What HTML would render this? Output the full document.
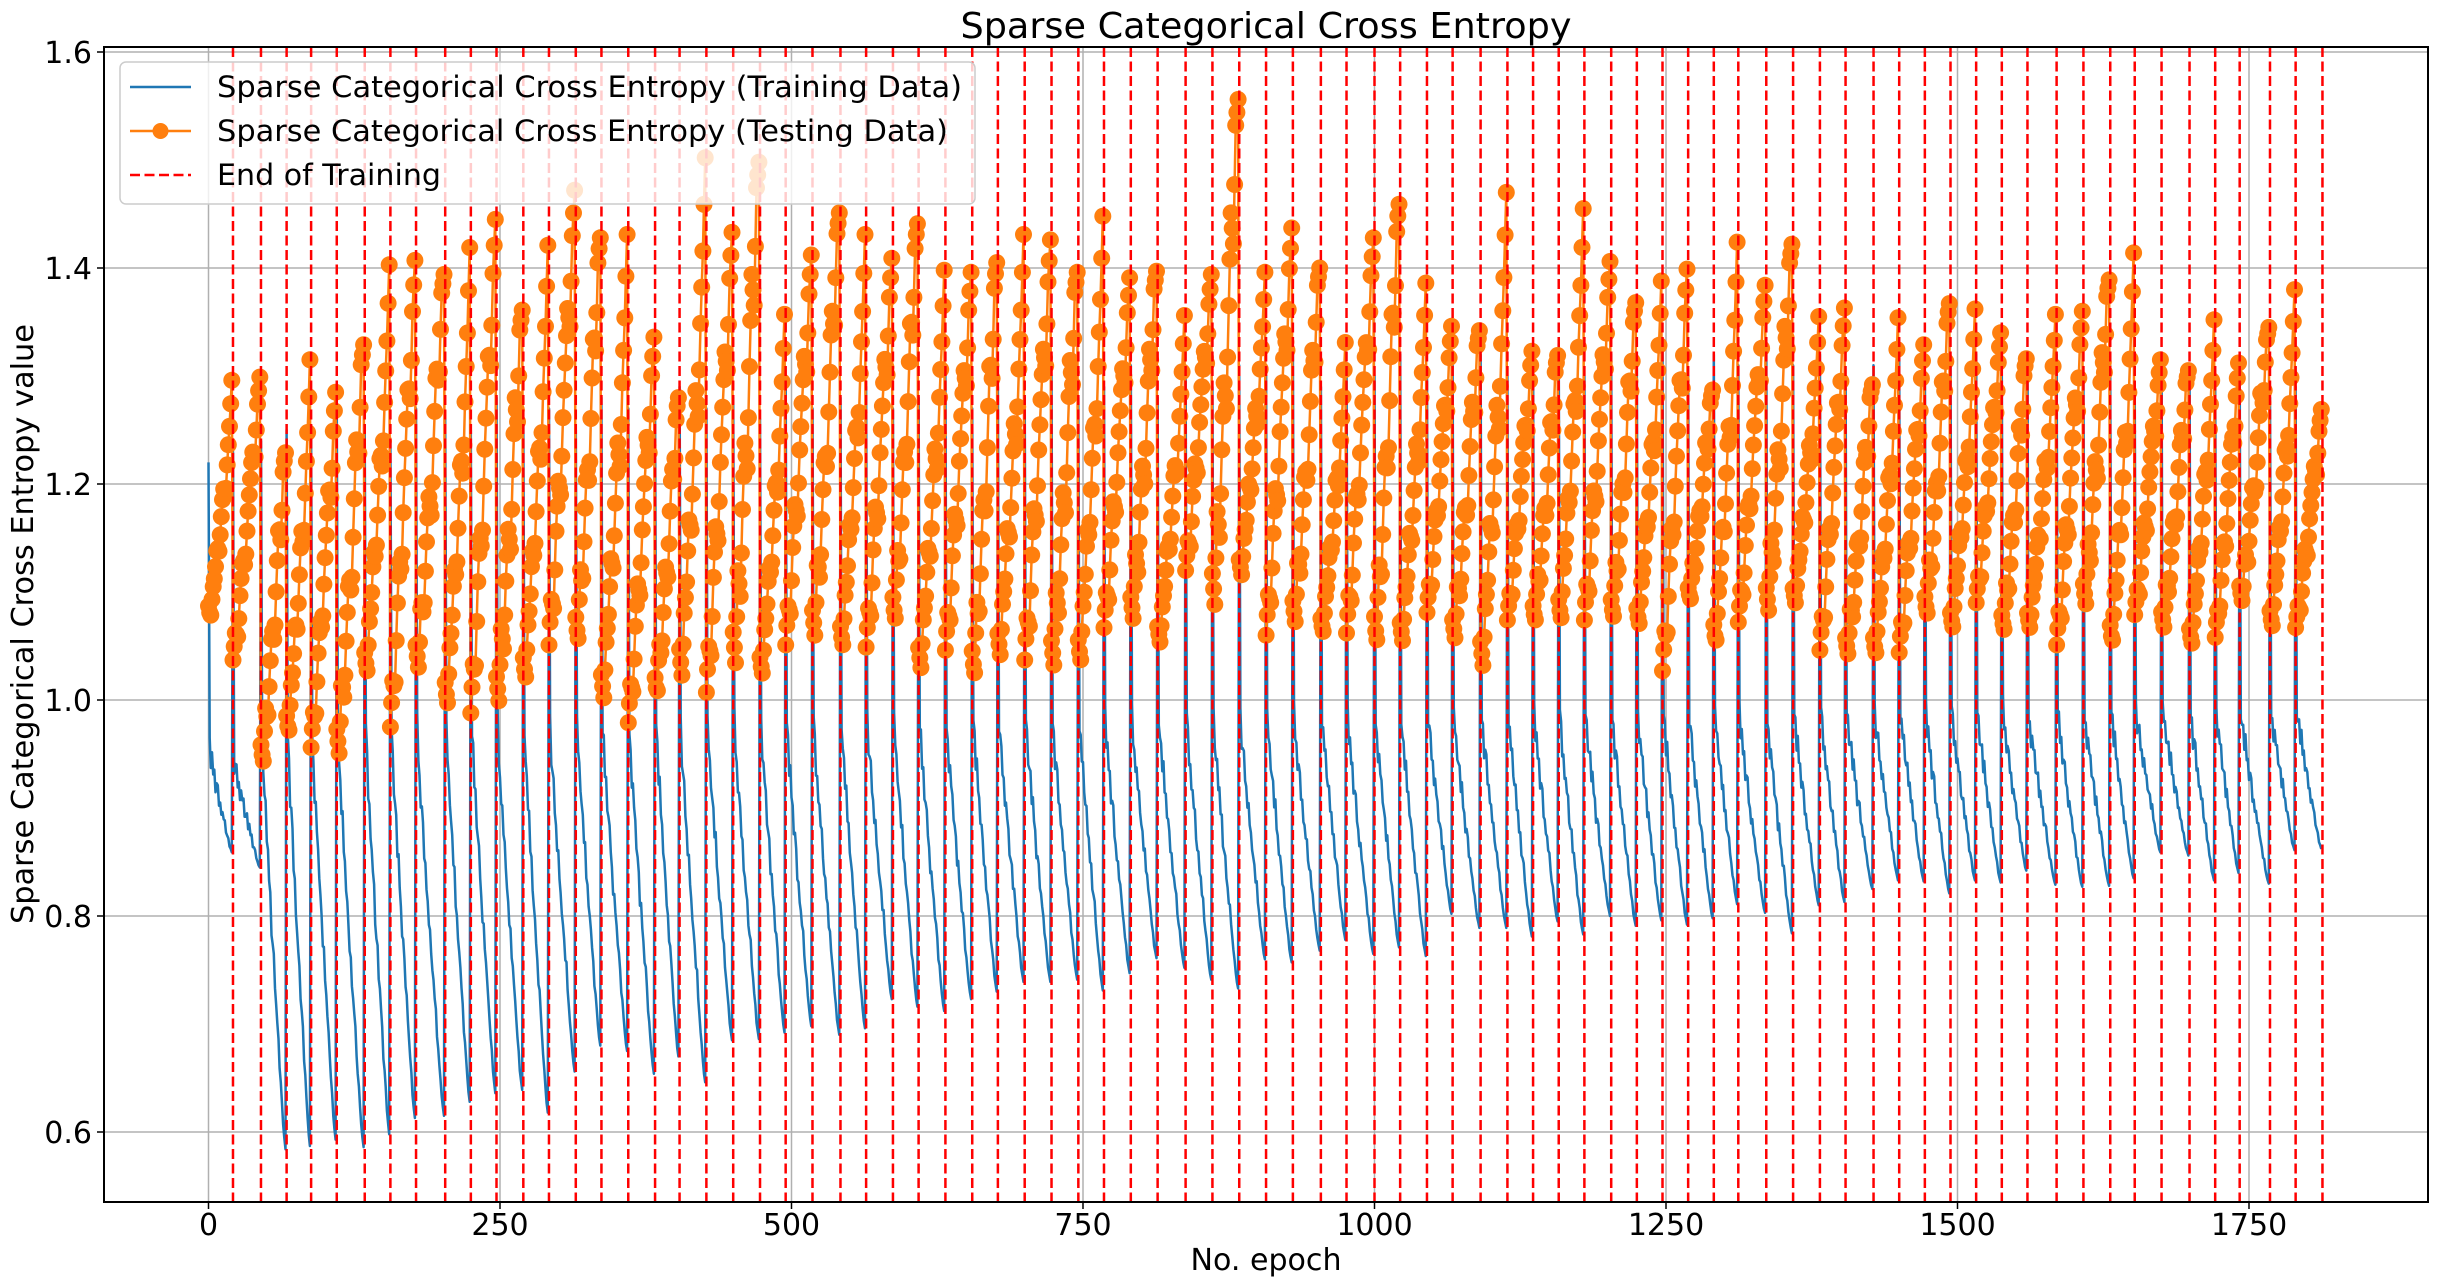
<!DOCTYPE html>
<html><head><meta charset="utf-8"><title>Sparse Categorical Cross Entropy</title>
<style>html,body{margin:0;padding:0;background:#fff}svg{display:block}text{font-family:"DejaVu Sans","Liberation Sans",sans-serif;fill:#000}</style>
</head><body>
<svg id="chart" xmlns="http://www.w3.org/2000/svg" width="2437" height="1285" viewBox="0 0 2437 1285">
<rect x="0" y="0" width="2437" height="1285" fill="#fff"/>
<g id="grid"></g>
<g id="train"></g>
<g id="test"></g>
<g id="vlines"></g>
<g id="axes"></g>
<text x="1266" y="38" font-size="36" text-anchor="middle" textLength="611" lengthAdjust="spacingAndGlyphs">Sparse Categorical Cross Entropy</text>
<text x="1266" y="1270" font-size="30" text-anchor="middle" textLength="151" lengthAdjust="spacingAndGlyphs">No. epoch</text>
<text x="0" y="0" font-size="30" text-anchor="middle" transform="translate(33,624) rotate(-90)" textLength="600" lengthAdjust="spacingAndGlyphs">Sparse Categorical Cross Entropy value</text>
<g id="legend">
<rect x="120" y="62" width="855" height="142" rx="6" fill="#fff" fill-opacity="0.8" stroke="#cccccc" stroke-width="1.5"/>
<g>
<line x1="130" y1="87" x2="191" y2="87" stroke="#1f77b4" stroke-width="2.5"/>
<text x="217" y="97" font-size="29" textLength="745" lengthAdjust="spacingAndGlyphs">Sparse Categorical Cross Entropy (Training Data)</text></g>
<g>
<line x1="130" y1="131" x2="191" y2="131" stroke="#ff7f0e" stroke-width="2.5"/>
<circle cx="160.5" cy="131" r="8" fill="#ff7f0e"/>
<text x="217" y="141" font-size="29" textLength="731" lengthAdjust="spacingAndGlyphs">Sparse Categorical Cross Entropy (Testing Data)</text></g>
<g>
<line x1="130" y1="175" x2="191" y2="175" stroke="#ff0000" stroke-width="2.5" stroke-dasharray="10 4.5"/>
<text x="217" y="185" font-size="29" textLength="224" lengthAdjust="spacingAndGlyphs">End of Training</text></g>
</g>
</svg>
<script>
const segEnds=[21,45,67,88,110,134,156,178,203,225,247,270,292,315,337,360,383,404,427,450,473,495,518,542,564,587,609,632,655,677,700,723,746,768,791,814,838,861,884,907,930,954,976,1000,1022,1045,1067,1091,1114,1136,1158,1180,1203,1225,1247,1269,1291,1312,1336,1359,1382,1404,1428,1450,1472,1494,1516,1538,1560,1585,1608,1631,1652,1675,1699,1721,1742,1768,1790,1813];
const trainMin=[.859,.845,.584,.587,.593,.586,.598,.613,.615,.628,.636,.639,.618,.656,.680,.675,.654,.670,.646,.685,.686,.692,.698,.690,.696,.723,.716,.712,.723,.730,.739,.739,.741,.731,.747,.761,.752,.741,.733,.760,.757,.768,.778,.765,.771,.763,.802,.789,.789,.781,.795,.783,.800,.791,.796,.792,.798,.811,.803,.784,.810,.813,.825,.833,.832,.821,.833,.831,.842,.829,.827,.828,.835,.859,.856,.833,.840,.830,.861,.862];
const trainTop=[.96,.95,1.0,1.0,1.0,1.0,1.0,1.0,1.0,1.0,1.0,1.0,1.0,1.0,1.0,1.0,1.0,1.0,1.0,1.0,1.0,1.0,1.0,1.0,1.0,1.0,1.0,1.0,1.0,1.0,1.0,1.0,1.0,1.0,1.0,1.0,1.0,1.0,1.0,1.0,1.0,1.0,1.0,1.0,1.0,1.0,1.0,1.0,1.0,1.0,1.0,1.0,1.0,1.0,1.0,1.0,1.0,1.0,1.0,1.0,1.0,1.0,1.0,1.0,1.0,1.0,1.0,1.0,1.0,1.0,1.0,1.0,1.0,1.0,1.0,1.0,1.0,1.0,1.0,1.0];
const trainSpike=[1.22,1.23,1.24,1.25,1.25,1.26,1.25,1.24,1.27,1.26,1.25,1.28,1.26,1.27,1.25,1.28,1.27,1.26,1.29,1.27,1.28,1.26,1.29,1.27,1.28,1.29,1.27,1.28,1.30,1.27,1.29,1.28,1.30,1.28,1.29,1.31,1.28,1.30,1.29,1.31,1.30,1.32,1.29,1.31,1.30,1.32,1.30,1.31,1.32,1.30,1.31,1.33,1.30,1.32,1.31,1.33,1.30,1.32,1.31,1.33,1.31,1.32,1.30,1.31,1.32,1.30,1.31,1.32,1.30,1.31,1.32,1.30,1.31,1.29,1.30,1.31,1.29,1.30,1.28,1.29];
const trainShape=[0.93,0.80,0.74,0.64,0.58,0.47,0.42,0.33,0.28,0.18,0.12,0.04,0];
const trainJitter=[0,0.012,-0.008,0.015,-0.004,0.009,-0.011,0.006,0.013,-0.007,0.004,-0.01,0.008,0,0.011,-0.006];
const testMin=[1.076,1.037,.935,.968,.956,.942,1.025,.975,1.021,.995,.988,.992,1.019,1.051,1.046,1.002,.979,.998,1.023,1.007,1.025,1.023,1.051,1.051,1.049,1.049,1.065,1.030,1.046,1.014,1.042,1.037,1.025,1.035,1.067,1.069,1.053,1.120,1.079,1.116,1.060,1.065,1.062,1.062,1.044,1.055,1.081,1.051,1.032,1.074,1.067,1.074,1.074,1.069,1.069,1.027,1.088,1.051,1.072,1.076,1.090,1.046,1.037,1.042,1.044,1.072,1.066,1.090,1.058,1.066,1.051,1.083,1.051,1.079,1.062,1.051,1.058,1.085,1.067,1.067];
const testMax=[1.296,1.299,1.229,1.315,1.285,1.329,1.403,1.407,1.394,1.419,1.445,1.361,1.421,1.472,1.428,1.431,1.336,1.280,1.502,1.433,1.498,1.357,1.412,1.451,1.431,1.409,1.441,1.398,1.396,1.405,1.431,1.426,1.396,1.448,1.391,1.397,1.356,1.394,1.556,1.396,1.437,1.400,1.331,1.428,1.459,1.386,1.346,1.342,1.470,1.323,1.319,1.455,1.406,1.368,1.388,1.399,1.287,1.424,1.384,1.422,1.355,1.363,1.292,1.354,1.329,1.367,1.362,1.340,1.316,1.357,1.360,1.389,1.414,1.315,1.305,1.352,1.312,1.345,1.380,1.269];
const testShapeA=[0.05,0,0.12,0.18,0.3,0.28,0.42,0.55,0.5,0.68,0.82,1];
const testShapeB=[0,0.1,0.08,0.25,0.36,0.33,0.5,0.62,0.74,0.7,0.9,1];
const testShapeC=[0.08,0.02,0.2,0.15,0.32,0.45,0.4,0.6,0.78,0.72,0.95,1];
const xTicks=[0,250,500,750,1000,1250,1500,1750];
const yTicks=[0.6,0.8,1.0,1.2,1.4,1.6];
const xTickLabels=["0","250","500","750","1000","1250","1500","1750"];
const yTickLabels=["0.6","0.8","1.0","1.2","1.4","1.6"];

const NS="http://www.w3.org/2000/svg";
const L=104,R=2428,T=47,B=1202;
function X(e){return 208.5+e*1.166;}
function Y(v){return 1132-(v-0.6)*1080;}
function mk(tag,attrs,parent){const el=document.createElementNS(NS,tag);for(const k in attrs)el.setAttribute(k,attrs[k]);parent.appendChild(el);return el;}
function sample(arr,t){const p=t*(arr.length-1);const i=Math.floor(p);const f=p-i;if(i>=arr.length-1)return arr[arr.length-1];return arr[i]*(1-f)+arr[i+1]*f;}

const grid=document.getElementById('grid');
xTicks.forEach((t,i)=>{const ln=mk('line',{x1:X(t),x2:X(t),y1:T,y2:B,stroke:'#b0b0b0','stroke-width':1.5},grid);

});
yTicks.forEach((t,i)=>{const ln=mk('line',{x1:L,x2:R,y1:Y(t),y2:Y(t),stroke:'#b0b0b0','stroke-width':1.5},grid);

});

const trainPts=[],testPts=[];
let prev=0;
segEnds.forEach((end,k)=>{
  const n=end-prev;
  for(let i=0;i<n;i++){
    const e=prev+i;
    let v;
    if(i===0){v=trainSpike[k];}
    else{const t=n>2?(i-1)/(n-2):1;v=trainMin[k]+(trainTop[k]-trainMin[k])*sample(trainShape,t)+(i<n-1?trainJitter[(e)%trainJitter.length]*(1-t):0);}
    trainPts.push([X(e),Y(v)]);
    const sh=k%3===0?testShapeA:(k%3===1?testShapeB:testShapeC);
    const tv=testMin[k]+(testMax[k]-testMin[k])*sample(sh,n>1?i/(n-1):1);
    testPts.push([X(e),Y(tv)]);
  }
  prev=end;
});
const trainG=document.getElementById('train');
const tl=mk('polyline',{points:trainPts.map(p=>p[0].toFixed(1)+','+p[1].toFixed(1)).join(' '),fill:'none',stroke:'#1f77b4','stroke-width':2.5,'stroke-linejoin':'round'},trainG);


const testG=document.getElementById('test');
const sl=mk('polyline',{points:testPts.map(p=>p[0].toFixed(1)+','+p[1].toFixed(1)).join(' '),fill:'none',stroke:'#ff7f0e','stroke-width':2.5,'stroke-linejoin':'round'},testG);


testPts.forEach(p=>{const c=mk('circle',{cx:p[0].toFixed(1),cy:p[1].toFixed(1),r:8.5,fill:'#ff7f0e'},testG);

});

const vg=document.getElementById('vlines');
segEnds.forEach(e=>{const ln=mk('line',{x1:X(e),x2:X(e),y1:T,y2:B,stroke:'#ff0000','stroke-width':2.5,'stroke-dasharray':'10 4.5'},vg);

});

const ax=document.getElementById('axes');
const fr=mk('rect',{x:L,y:T,width:R-L,height:B-T,fill:'none',stroke:'#000','stroke-width':2},ax);


xTicks.forEach((t,i)=>{mk('line',{x1:X(t),x2:X(t),y1:B,y2:B+7,stroke:'#000','stroke-width':1.5},ax);
const tx=mk('text',{x:X(t),y:1235,'font-size':30,'text-anchor':'middle'},ax);tx.textContent=xTickLabels[i];

});
yTicks.forEach((t,i)=>{mk('line',{x1:L-7,x2:L,y1:Y(t),y2:Y(t),stroke:'#000','stroke-width':1.5},ax);
const tx=mk('text',{x:92,y:Y(t)+11,'font-size':30,'text-anchor':'end'},ax);tx.textContent=yTickLabels[i];

});
</script>
</body></html>
